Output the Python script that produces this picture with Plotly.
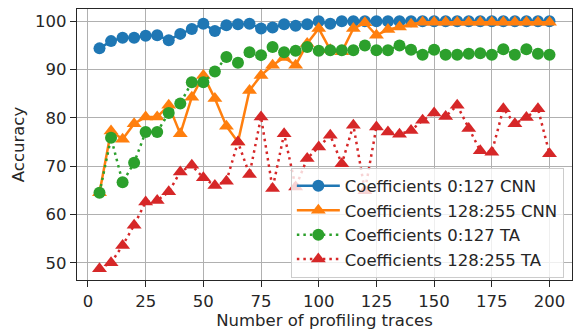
import plotly.graph_objects as go

traces_x = list(range(5, 205, 5))

cnn_0_127 = [94.4, 95.9, 96.6, 96.6, 97.0, 97.1, 96.1, 97.4, 98.4, 99.5,
             98.0, 99.2, 99.4, 99.5, 98.5, 98.7, 99.4, 99.1, 99.4, 100.0,
             99.5, 100.0, 100.0, 100.0, 100.0, 100.0, 100.0, 100.0, 100.0, 100.0,
             100.0, 100.0, 100.0, 100.0, 100.0, 100.0, 100.0, 100.0, 100.0, 100.0]

cnn_128_255 = [64.5, 77.3, 75.6, 78.8, 80.2, 80.2, 82.6, 76.7, 84.3, 88.8,
               84.0, 78.3, 75.0, 85.7, 88.8, 90.9, 92.5, 90.9, 95.4, 98.5,
               94.1, 93.7, 98.5, 99.7, 97.1, 98.3, 98.8, 99.4, 99.8, 99.8,
               99.8, 99.8, 99.8, 99.8, 99.8, 99.8, 99.8, 99.8, 99.8, 99.8]

ta_0_127 = [64.5, 75.9, 66.7, 70.7, 77.1, 77.1, 81.0, 83.0, 87.4, 87.4,
            89.6, 92.6, 91.4, 93.6, 93.0, 94.7, 93.6, 93.9, 94.7, 93.9,
            94.0, 94.0, 94.0, 95.0, 94.0, 94.0, 95.0, 94.1, 93.1, 94.1,
            93.1, 93.1, 93.3, 93.4, 93.1, 94.2, 93.1, 94.2, 93.3, 93.1]

ta_128_255 = [48.8, 50.0, 53.6, 57.8, 62.6, 62.9, 64.7, 68.8, 70.2, 67.6,
              66.0, 66.9, 75.0, 68.3, 80.2, 65.4, 76.7, 65.7, 71.6, 74.0,
              76.4, 70.5, 78.5, 64.9, 78.1, 77.1, 76.6, 77.4, 79.5, 81.0,
              80.3, 82.6, 77.8, 73.2, 72.9, 81.9, 78.8, 80.1, 81.9, 72.6]

series_names = ["Coefficients 0:127 CNN", "Coefficients 128:255 CNN",
                "Coefficients 0:127 TA", "Coefficients 128:255 TA"]
x_ticks = [0, 25, 50, 75, 100, 125, 150, 175, 200]
y_ticks = [50, 60, 70, 80, 90, 100]

FS = 16.5
TXT = "#262626"

fig = go.Figure()
fig.add_trace(go.Scatter(x=traces_x, y=cnn_0_127, name=series_names[0], mode="lines+markers",
                         line=dict(color="#1f77b4", width=2.5),
                         marker=dict(symbol="circle", size=12, color="#1f77b4")))
fig.add_trace(go.Scatter(x=traces_x, y=cnn_128_255, name=series_names[1], mode="lines+markers",
                         line=dict(color="#ff7f0e", width=2.5),
                         marker=dict(symbol="triangle-up", size=13, color="#ff7f0e")))
fig.add_trace(go.Scatter(x=traces_x, y=ta_0_127, name=series_names[2], mode="lines+markers",
                         line=dict(color="#2ca02c", width=2.5, dash="2.5px,4px"),
                         marker=dict(symbol="circle", size=12, color="#2ca02c")))
fig.add_trace(go.Scatter(x=traces_x, y=ta_128_255, name=series_names[3], mode="lines+markers",
                         line=dict(color="#d62728", width=2.5, dash="2.5px,4px"),
                         marker=dict(symbol="triangle-up", size=13, color="#d62728")))

axis_common = dict(showgrid=True, gridcolor="#b0b0b0", gridwidth=1, automargin=False,
                   showline=True, linecolor=TXT, linewidth=1.3, mirror=True,
                   ticks="outside", ticklen=6, tickwidth=1.2, tickcolor=TXT,
                   zeroline=False, tickfont=dict(family="DejaVu Sans", size=FS, color=TXT))

fig.update_xaxes(range=[-4.75, 209.75], tickvals=x_ticks,
                 title=dict(text="Number of profiling traces", standoff=4,
                            font=dict(family="DejaVu Sans", size=FS, color=TXT)),
                 **axis_common)
fig.update_yaxes(range=[46.45, 102.55], tickvals=y_ticks,
                 title=dict(text="Accuracy", standoff=6,
                            font=dict(family="DejaVu Sans", size=FS, color=TXT)),
                 **axis_common)

fig.update_layout(
    width=574, height=331,
    margin=dict(l=77, r=2, t=9, b=51),
    plot_bgcolor="white", paper_bgcolor="white",
    font=dict(family="DejaVu Sans", size=FS, color=TXT),
    legend=dict(x=0.432, y=0.415, xanchor="left", yanchor="top",
                bgcolor="rgba(255,255,255,0.8)", bordercolor="#cccccc", borderwidth=1,
                font=dict(family="DejaVu Sans", size=FS, color=TXT),
                itemwidth=43, tracegroupgap=0),
    showlegend=True,
)

fig.write_html("out.html", config={"displayModeBar": False},
               post_script="document.body.style.margin='0';document.body.style.overflow='hidden';")
